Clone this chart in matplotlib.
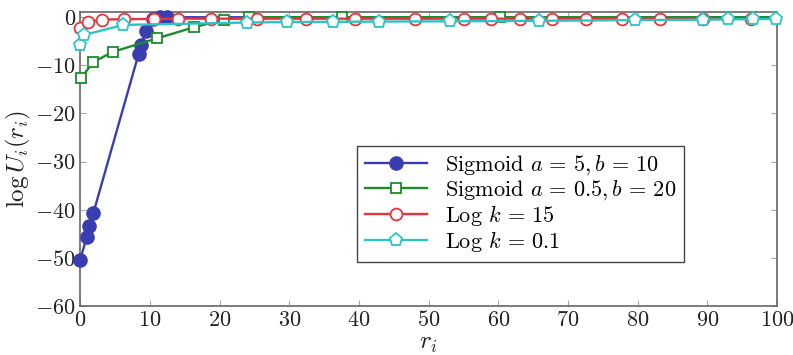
import numpy as np
import matplotlib
matplotlib.use('Agg')
import matplotlib.pyplot as plt

plt.rcParams['font.family'] = 'serif'
plt.rcParams['font.serif'] = ['cmr10', 'DejaVu Serif']
plt.rcParams['mathtext.fontset'] = 'cm'
plt.rcParams['axes.formatter.use_mathtext'] = True

# Sigmoid a=5, b=10 (last point only carries the line on to r=100)
sig1_r = [0, 0.96, 1.34, 1.9, 8.4, 8.8, 9.4, 10.4, 11.5, 12.4, 100]
sig1_u = [-50.4, -45.7, -43.4, -40.7, -7.6, -5.8, -2.9, -0.4, 0, 0, 0]

# Sigmoid a=0.5, b=20
sig2_r = [0.1, 1.9, 4.7, 11.0, 16.3, 20.6, 24.2, 37.6, 60.2, 100]
sig2_u = [-12.7, -9.3, -7.2, -4.4, -2.1, -0.5, 0, 0, 0, 0]

# Log k=15
log15_r = [0, 1.2, 3.2, 6.3, 10.6, 14.1, 18.8, 25.4, 32.4, 39.5, 48.1, 55.1,
           58.9, 63.1, 67.7, 72.6, 77.7, 83.2, 89.3, 96.3]
log15_u = [-2.2, -0.9, -0.5, -0.4, -0.35, -0.3, -0.3, -0.3, -0.3, -0.3, -0.3,
           -0.3, -0.3, -0.3, -0.3, -0.3, -0.3, -0.3, -0.3, -0.3]

# Log k=0.1
log01_r = [0, 0.5, 6.2, 23.9, 29.7, 36.3, 42.9, 53.0, 65.9, 79.6, 89.4, 92.9,
           96.6, 99.9]
log01_u = [-5.8, -3.7, -1.6, -1.1, -1.0, -0.95, -0.9, -0.85, -0.75, -0.6, -0.5,
           -0.45, -0.4, -0.35]

fig = plt.figure(figsize=(7.93, 3.55), dpi=100)
ax = fig.add_axes([0.101, 0.138, 0.879, 0.827])

lw = 1.7
ax.plot(sig1_r, sig1_u, color='#3a3db0', lw=lw, marker='o', ms=9.5,
        mfc='#3a3db0', mec='#3a3db0', markevery=list(range(len(sig1_r) - 1)),
        clip_on=False, zorder=3, label=r'Sigmoid $a\,=\,5, b\,=\,10$')
ax.plot(sig2_r, sig2_u, color='#1c8c2c', lw=lw, marker='s', ms=7.5,
        mfc='white', mec='#1c8c2c', mew=1.3,
        markevery=list(range(len(sig2_r) - 1)),
        clip_on=False, zorder=3, label=r'Sigmoid $a\,=\,0.5, b\,=\,20$')
ax.plot(log15_r, log15_u, color='#e8343c', lw=lw, marker='o', ms=8.5,
        mfc='white', mec='#e8343c', mew=1.3,
        clip_on=False, zorder=4, label=r'Log $k\,=\,15$')
ax.plot(log01_r, log01_u, color='#2cc4c4', lw=lw, marker='p', ms=9.5,
        mfc='white', mec='#2cc4c4', mew=1.3,
        clip_on=False, zorder=4, label=r'Log $k\,=\,0.1$')

ax.set_xlim(0, 100)
ax.set_ylim(-60, 1)
ax.set_xticks(np.arange(0, 101, 10))
ax.set_yticks(np.arange(-60, 1, 10))
ax.tick_params(direction='in', top=True, right=True, length=4, color='#aaaaaa',
               labelsize=16, labelcolor='#222222', pad=3)
for s in ax.spines.values():
    s.set_color('#666666')
    s.set_linewidth(1.2)

ax.set_xlabel(r'$r_i$', fontsize=18, color='#222222', labelpad=2)
ax.set_ylabel(r'$\log U_i(r_i)$', fontsize=18, color='#222222', labelpad=2)

leg = ax.legend(loc='lower left', bbox_to_anchor=(0.397, 0.15), fontsize=16,
                handlelength=2.8, handletextpad=0.8, borderpad=0.35,
                labelspacing=0.05, borderaxespad=0,
                fancybox=False, framealpha=1, edgecolor='#444444')
leg.get_frame().set_linewidth(1.0)

fig.savefig('out.png', dpi=100)
